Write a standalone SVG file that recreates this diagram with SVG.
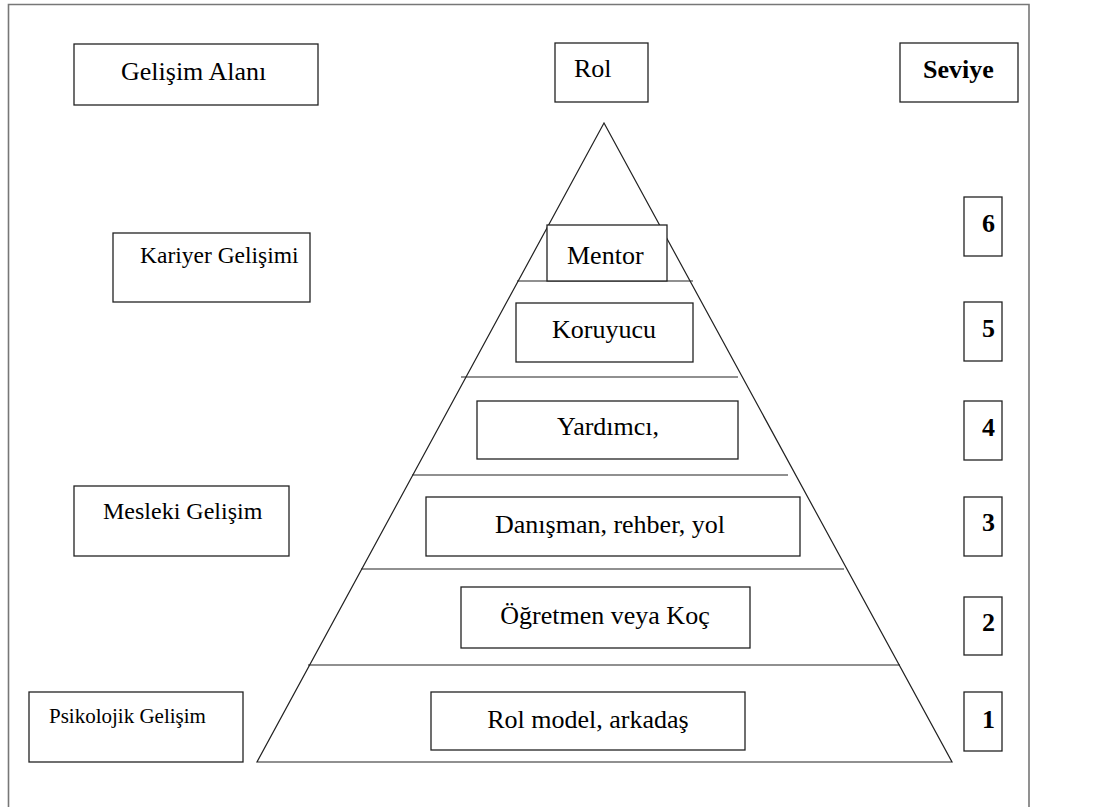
<svg xmlns="http://www.w3.org/2000/svg" width="1117" height="807" viewBox="0 0 1117 807">
<style>
.box{fill:#fff;stroke:#222;stroke-width:1.3}
.ln{fill:none;stroke:#222;stroke-width:1.2}
.t{font-family:'Liberation Serif','Times New Roman',Tinos,'DejaVu Serif',serif;font-size:26px;fill:#000}
.c{text-anchor:middle}
.b{font-weight:bold}
</style>
<rect width="1117" height="807" fill="#fff"/>
<path d="M8.5,807 V4.5 H1029 V807" fill="none" stroke="#777" stroke-width="1.6"/>
<g id="connectors">
<path class="ln" d="M604,123 L257,762 L952,762 Z"/>
<line class="ln" x1="517" y1="281" x2="693" y2="281"/>
<line class="ln" x1="461" y1="377" x2="738" y2="377"/>
<line class="ln" x1="412" y1="475" x2="788" y2="475"/>
<line class="ln" x1="361" y1="569" x2="844" y2="569"/>
<line class="ln" x1="308" y1="665" x2="900" y2="665"/>
</g>
<g id="gelisim-alani"><rect class="box" x="74" y="44" width="244" height="61"/><text class="t" x="121" y="80">Gelişim Alanı</text></g>
<g id="rol"><rect class="box" x="555" y="43" width="93" height="59"/><text class="t" x="574" y="77">Rol</text></g>
<g id="seviye"><rect class="box" x="900" y="43" width="118" height="59"/><text class="t b" x="923" y="78">Seviye</text></g>
<g id="kariyer"><rect class="box" x="113" y="233" width="197" height="69"/><text class="t" x="140" y="263" style="font-size:23.5px">Kariyer Gelişimi</text></g>
<g id="mesleki"><rect class="box" x="74" y="486" width="215" height="70"/><text class="t" x="103" y="519" style="font-size:24px">Mesleki Gelişim</text></g>
<g id="psikolojik"><rect class="box" x="29" y="692" width="214" height="70"/><text class="t" x="49" y="723" style="font-size:21px">Psikolojik Gelişim</text></g>
<g id="mentor"><rect class="box" x="547" y="225" width="120" height="56"/><text class="t" x="567" y="264">Mentor</text></g>
<g id="koruyucu"><rect class="box" x="516" y="303" width="177" height="59"/><text class="t" x="552" y="338">Koruyucu</text></g>
<g id="yardimci"><rect class="box" x="477" y="401" width="261" height="58"/><text class="t" x="557" y="435">Yardımcı,</text></g>
<g id="danisman"><rect class="box" x="426" y="497" width="374" height="59"/><text class="t" x="495" y="533">Danışman, rehber, yol</text></g>
<g id="ogretmen"><rect class="box" x="461" y="587" width="289" height="61"/><text class="t c" x="605" y="624">Öğretmen veya Koç</text></g>
<g id="rolmodel"><rect class="box" x="431" y="692" width="314" height="58"/><text class="t c" x="588" y="728">Rol model, arkadaş</text></g>
<g id="s6"><rect class="box" x="964" y="197" width="38" height="59"/><text class="t b" x="982" y="232">6</text></g>
<g id="s5"><rect class="box" x="964" y="302" width="38" height="59"/><text class="t b" x="982" y="337">5</text></g>
<g id="s4"><rect class="box" x="964" y="401" width="38" height="59"/><text class="t b" x="982" y="436">4</text></g>
<g id="s3"><rect class="box" x="964" y="497" width="38" height="59"/><text class="t b" x="982" y="531">3</text></g>
<g id="s2"><rect class="box" x="964" y="597" width="38" height="58"/><text class="t b" x="982" y="631">2</text></g>
<g id="s1"><rect class="box" x="964" y="692" width="38" height="59"/><text class="t b" x="982" y="728">1</text></g>
</svg>
